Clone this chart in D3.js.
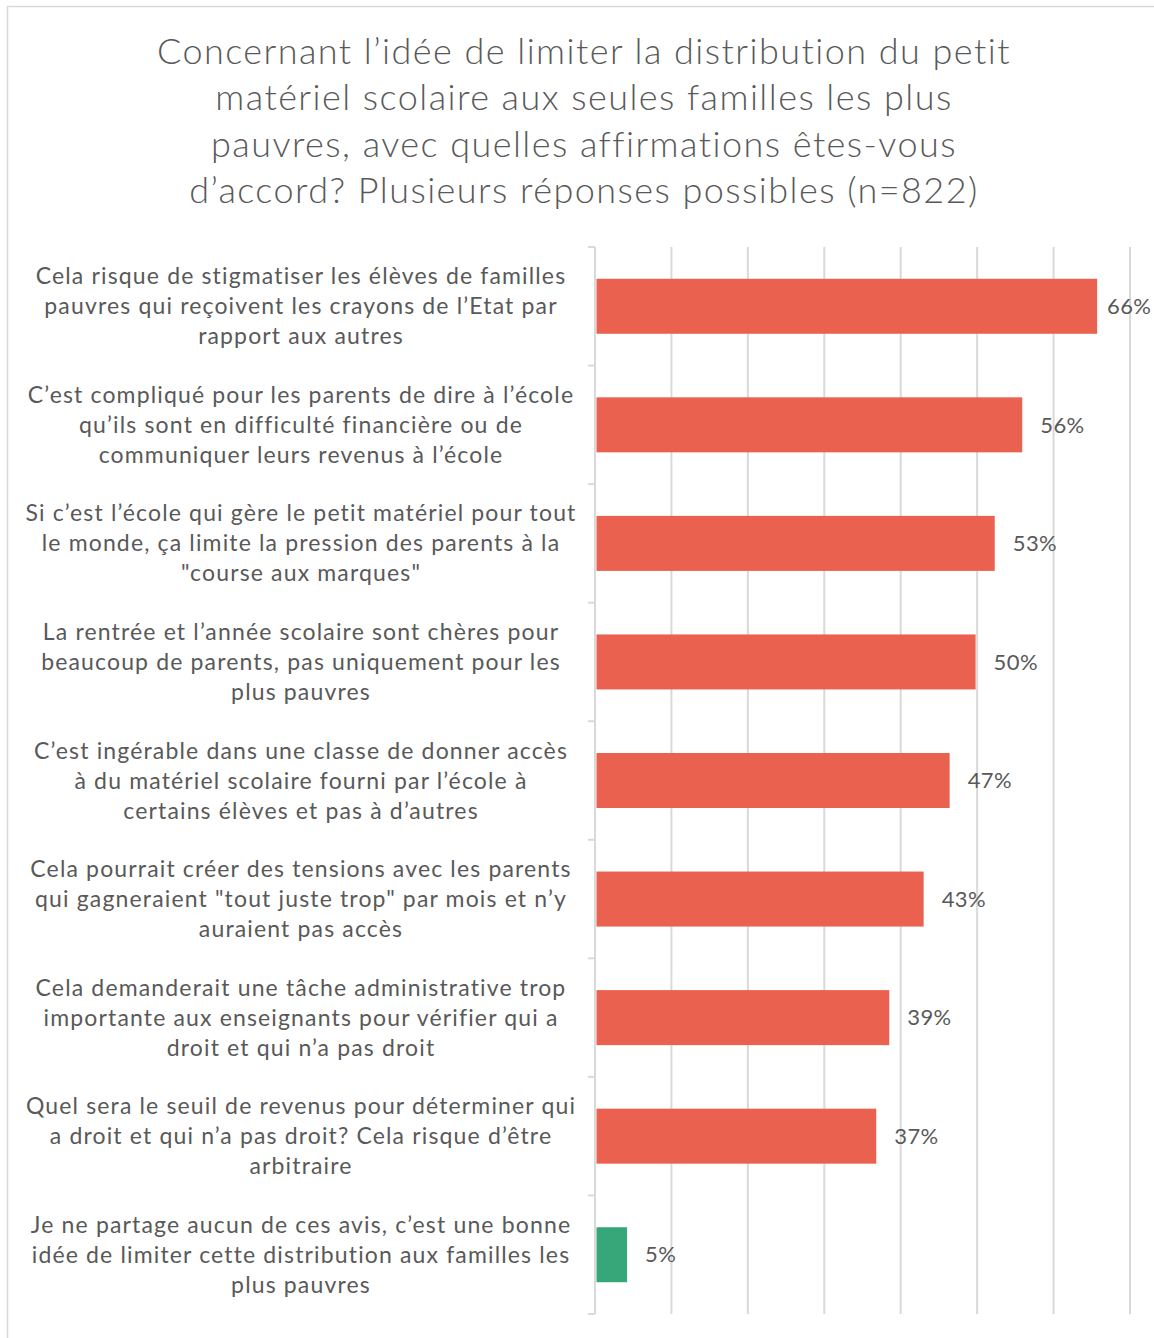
<!DOCTYPE html>
<html>
<head>
<meta charset="utf-8">
<script src="https://cdn.jsdelivr.net/npm/d3@7"></script>
<style>
  body { margin: 0; background: #fff; }
  svg { display: block; font-family: "Lato", "Noto Sans", sans-serif; }
</style>
</head>
<body>
<div id="chart"></div>
<script>
// title lines
var titleLines = [
  "Concernant l\u2019idée de limiter la distribution du petit",
  "matériel scolaire aux seules familles les plus",
  "pauvres, avec quelles affirmations êtes-vous",
  "d\u2019accord? Plusieurs réponses possibles (n=822)"
];

// category labels (already wrapped like the original)
var categories = [
  ["Cela risque de stigmatiser les élèves de familles", "pauvres qui reçoivent les crayons de l\u2019Etat par", "rapport aux autres"],
  ["C\u2019est compliqué pour les parents de dire à l\u2019école", "qu\u2019ils sont en difficulté financière ou de", "communiquer leurs revenus à l\u2019école"],
  ["Si c\u2019est l\u2019école qui gère le petit matériel pour tout", "le monde, ça limite la pression des parents à la", "\"course aux marques\""],
  ["La rentrée et l\u2019année scolaire sont chères pour", "beaucoup de parents, pas uniquement pour les", "plus pauvres"],
  ["C\u2019est ingérable dans une classe de donner accès", "à du matériel scolaire fourni par l\u2019école à", "certains élèves et pas à d\u2019autres"],
  ["Cela pourrait créer des tensions avec les parents", "qui gagneraient \"tout juste trop\" par mois et n\u2019y", "auraient pas accès"],
  ["Cela demanderait une tâche administrative trop", "importante aux enseignants pour vérifier qui a", "droit et qui n\u2019a pas droit"],
  ["Quel sera le seuil de revenus pour déterminer qui", "a droit et qui n\u2019a pas droit? Cela risque d\u2019être", "arbitraire"],
  ["Je ne partage aucun de ces avis, c\u2019est une bonne", "idée de limiter cette distribution aux familles les", "plus pauvres"]
];

var values = [0.657, 0.559, 0.523, 0.498, 0.464, 0.430, 0.385, 0.368, 0.042];
var valueLabels = ["66%", "56%", "53%", "50%", "47%", "43%", "39%", "37%", "5%"];
var barColors = ["#EB6150", "#EB6150", "#EB6150", "#EB6150", "#EB6150", "#EB6150", "#EB6150", "#EB6150", "#37A779"];
var gridTicks = [0.1, 0.2, 0.3, 0.4, 0.5, 0.6, 0.7];

var width = 1154, height = 1338;
var margin = { top: 247, right: 24, bottom: 24, left: 595 };
var textColor = "#595959";
var gridColor = "#d9d9d9";

var svg = d3.select("#chart").append("svg")
  .attr("width", width)
  .attr("height", height);

// chart frame
svg.append("rect")
  .attr("x", 7.5).attr("y", 6.5)
  .attr("width", 1170).attr("height", 1360)
  .attr("fill", "none")
  .attr("stroke", gridColor)
  .attr("stroke-width", 1.5);

/* Scales */
var xScale = d3.scaleLinear()
  .domain([0, 0.7])
  .range([margin.left, width - margin.right]);

var idx = d3.range(categories.length);
var yScale = d3.scaleBand()
  .domain(idx)
  .range([margin.top, height - margin.bottom])
  .paddingInner(0.536)
  .paddingOuter(0.268);

var step = yScale.step();
var y0 = margin.top, y1 = height - margin.bottom;

/* Title */
svg.append("text")
  .attr("text-anchor", "middle")
  .attr("fill", textColor)
  .attr("font-size", 36)
  .attr("font-weight", 300)
  .attr("letter-spacing", 1.45)
  .selectAll("tspan")
  .data(titleLines)
  .join("tspan")
  .attr("x", 584)
  .attr("y", (d, i) => 64 + i * 46.3)
  .text(d => d);

/* Grid */
svg.append("g")
  .selectAll("line")
  .data(gridTicks)
  .join("line")
  .attr("x1", d => xScale(d))
  .attr("x2", d => xScale(d))
  .attr("y1", y0)
  .attr("y2", y1)
  .attr("stroke", gridColor)
  .attr("stroke-width", 2);

/* Bars */
svg.append("g")
  .selectAll("rect")
  .data(values)
  .join("rect")
  .attr("x", xScale(0) + 1.5)
  .attr("y", (d, i) => yScale(i))
  .attr("width", d => xScale(d) - xScale(0) - 1.5)
  .attr("height", yScale.bandwidth())
  .attr("fill", (d, i) => barColors[i]);

/* Value labels */
svg.append("g")
  .selectAll("text")
  .data(values)
  .join("text")
  .attr("x", d => Math.min(xScale(d) + 18, 1107))
  .attr("y", (d, i) => yScale(i) + yScale.bandwidth() / 2)
  .attr("dy", "0.35em")
  .attr("fill", textColor)
  .attr("font-size", 22)
  .attr("letter-spacing", 0.4)
  .text((d, i) => valueLabels[i]);

/* Y axis */
var yAxis = svg.append("g");
yAxis.append("line")
  .attr("x1", margin.left).attr("x2", margin.left)
  .attr("y1", y0).attr("y2", y1)
  .attr("stroke", gridColor)
  .attr("stroke-width", 2);
yAxis.selectAll(".tick")
  .data(d3.range(categories.length + 1))
  .join("line")
  .attr("class", "tick")
  .attr("x1", margin.left - 7).attr("x2", margin.left)
  .attr("y1", i => y0 + i * step)
  .attr("y2", i => y0 + i * step)
  .attr("stroke", gridColor)
  .attr("stroke-width", 2);

/* Category labels */
svg.append("g")
  .selectAll("text")
  .data(categories)
  .join("text")
  .attr("text-anchor", "middle")
  .attr("fill", textColor)
  .attr("font-size", 23)
  .attr("letter-spacing", 1.15)
  .attr("transform", (d, i) => `translate(301, ${yScale(i) + yScale.bandwidth() / 2})`)
  .selectAll("tspan")
  .data(d => d)
  .join("tspan")
  .attr("x", 0)
  .attr("y", (d, j, nodes) => (j - (nodes.length - 1) / 2) * 30)
  .attr("dy", "0.35em")
  .text(d => d);
</script>
</body>
</html>
